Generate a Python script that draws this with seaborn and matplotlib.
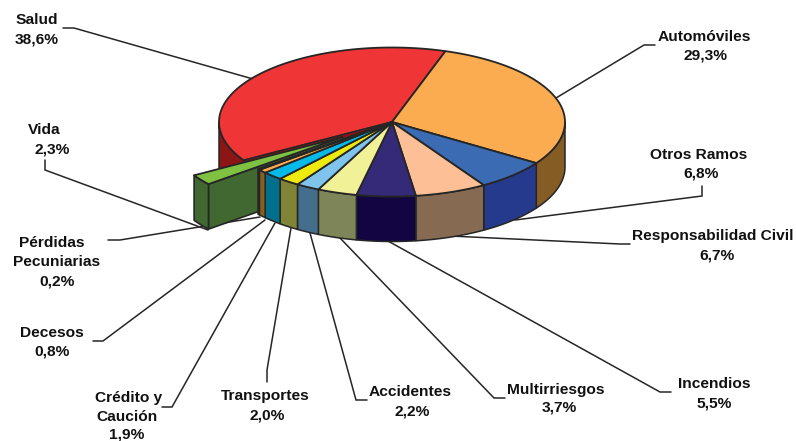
import numpy as np
import matplotlib
matplotlib.use("Agg")
import matplotlib.pyplot as plt
from matplotlib.patches import Polygon
import seaborn as sns

# ---- data (clockwise from the start angle)
categories = ["Automóviles", "Otros Ramos", "Responsabilidad Civil", "Incendios", "Multirriesgos",
              "Accidentes", "Transportes", "Crédito y\nCaución", "Decesos", "Pérdidas\nPecuniarias",
              "Vida", "Salud"]
values = [29.3, 6.8, 6.7, 5.5, 3.7, 2.2, 2.0, 1.9, 0.8, 0.2, 2.3, 38.6]
top_colors = ["#FBAB50", "#3A6BB3", "#FDBF95", "#342A78", "#F1F198", "#7FC4EC",
              "#EEE90F", "#05B9E8", "#FBAB50", "#3D6A33", "#7FC241", "#EF3535"]
side_colors = ["#855D24", "#253A8C", "#866A52", "#120541", "#7E8558", "#446E8C",
               "#818336", "#02708C", "#85601F", "#3D6A33", "#406830", "#8C1515"]

sns.set_theme(style="white", rc={"font.family": ["Liberation Sans", "DejaVu Sans"]})
top_palette = sns.color_palette(top_colors)
side_palette = sns.color_palette(side_colors)

# ---- layout
W, H = 796, 441
CX, CY, RX, RY, DEPTH = 392, 122, 173, 74.5, 45
START = 72.0
VIDA_EXPLODE = 0.35
EDGE = "#262626"
FONT = 11.15

# text lines per category: (centre x, centre y) in pixels
line_pos = {
    "Automóviles": [(704, 37), (706, 56)],
    "Otros Ramos": [(698.5, 155), (701, 174)],
    "Responsabilidad Civil": [(713, 236), (717.5, 255)],
    "Incendios": [(714, 384), (714, 403)],
    "Multirriesgos": [(556, 390), (559, 408)],
    "Accidentes": [(410, 392), (412, 411)],
    "Transportes": [(265, 396), (267, 415)],
    "Crédito y\nCaución": [(129, 398), (127, 417), (127, 434.5)],
    "Decesos": [(52, 333), (52, 352)],
    "Pérdidas\nPecuniarias": [(52, 243), (57, 262), (57, 281)],
    "Vida": [(44.5, 130), (52, 149)],
    "Salud": [(37, 20), (37, 39)],
}
leaders = {
    "Automóviles": [(655, 45), (644, 45), (556, 98)],
    "Otros Ramos": [(702, 186), (702, 196), (515, 220)],
    "Responsabilidad Civil": [(630, 244), (620, 244), (450, 236)],
    "Incendios": [(671, 392), (660, 392), (388, 241)],
    "Multirriesgos": [(505, 398), (494, 398), (340, 238)],
    "Accidentes": [(367, 400), (356, 400), (310, 233)],
    "Transportes": [(267, 382), (267, 370), (291, 228)],
    "Crédito y\nCaución": [(162, 407), (172, 407), (275, 223)],
    "Decesos": [(93, 341), (103, 341), (265, 220)],
    "Pérdidas\nPecuniarias": [(108, 240), (120, 240), (260, 217)],
    "Vida": [(45, 160), (45, 170), (208, 230)],
    "Salud": [(63, 28), (74, 28), (253, 79)],
}

fig = plt.figure(figsize=(W / 100, H / 100), dpi=100)
ax = fig.add_axes([0, 0, 1, 1])
ax.set_xlim(0, W)
ax.set_ylim(H, 0)
ax.axis("off")
sns.despine(ax=ax, left=True, bottom=True)


def pt(theta, r=1.0, off=(0.0, 0.0), dz=0.0):
    t = np.radians(theta)
    return np.column_stack([CX + RX * (off[0] + r * np.cos(t)),
                            CY - RY * (off[1] + r * np.sin(t)) + dz])


def top_face(a, b, color, off=(0.0, 0.0), lw=1.3, z=3):
    th = np.linspace(a, b, 80)
    apex = pt(np.array([0.0]), 0.0, off)
    ax.add_patch(Polygon(np.vstack([apex, pt(th, 1.0, off)]), closed=True, fc=color, ec=EDGE, lw=lw,
                         joinstyle="round", zorder=z))


def wall(a, b, color, off=(0.0, 0.0), lw=1.1, z=3):
    # only the part of the rim facing the viewer (-180..0 degrees)
    hi, lo = min(a, 0.0), max(b, -180.0)
    if hi <= lo:
        return
    th = np.linspace(hi, lo, 60)
    ax.add_patch(Polygon(np.vstack([pt(th, 1.0, off), pt(th[::-1], 1.0, off, DEPTH)]), closed=True,
                         fc=color, ec=EDGE, lw=lw, joinstyle="round", zorder=z))


# leader lines underneath the pie
for name in categories:
    xs, ys = zip(*leaders[name])
    ax.plot(xs, ys, color=EDGE, lw=1.1, zorder=1, solid_joinstyle="miter")

# angles clockwise from START, from the values
sweeps = np.array(values) / np.sum(values) * 360.0
ends = START - np.cumsum(sweeps)
starts = np.concatenate([[START], ends[:-1]])
idx = {n: i for i, n in enumerate(categories)}

# Salud (back-left) first
s = idx["Salud"]
sa, sb = starts[s], ends[s]
wall(sa, sb, side_palette[s], z=2)
top_face(sa, sb, top_palette[s], z=2)

# hollow left by the exploded slice
v = idx["Vida"]
va, vb = starts[v], ends[v]
top_face(va, vb, side_palette[s], z=2, lw=1.0)

# exploded Vida slice
mid = np.radians((va + vb) / 2)
off = (VIDA_EXPLODE * np.cos(mid), VIDA_EXPLODE * np.sin(mid))
apex = pt(np.array([0.0]), 0.0, off)
corner = pt(np.array([va]), 1.0, off)
ax.add_patch(Polygon(np.vstack([apex, corner, corner + [0, DEPTH], apex + [0, DEPTH]]), closed=True,
                     fc=side_palette[v], ec=EDGE, lw=1.2, zorder=2.2))
wall(va, vb, side_palette[v], off, lw=1.2, z=2.3)
top_face(va, vb, top_palette[v], off, z=2.4)

# remaining slices, walls then tops
for i, name in enumerate(categories):
    if name in ("Salud", "Vida"):
        continue
    wall(starts[i], ends[i], side_palette[i], z=3)
for i, name in enumerate(categories):
    if name in ("Salud", "Vida"):
        continue
    top_face(starts[i], ends[i], top_palette[i], z=4)

# labels
for name, val in zip(categories, values):
    lines = name.split("\n") + [f"{val:.1f}%".replace(".", ",")]
    for txt, (x, y) in zip(lines, line_pos[name]):
        ax.text(x, y, txt, ha="center", va="center", fontsize=FONT, fontweight="bold",
                color="#111111", zorder=6)

fig.savefig("out.png", dpi=100)
